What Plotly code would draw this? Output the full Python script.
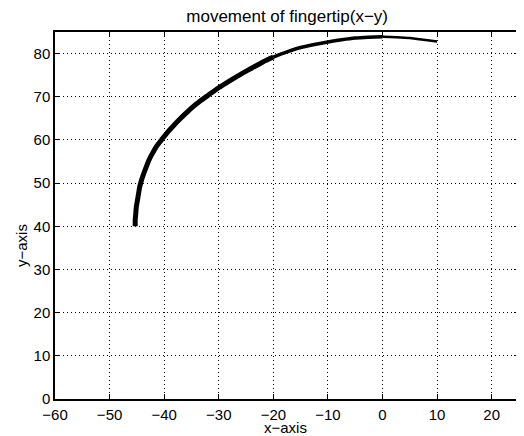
import plotly.graph_objects as go

x_vals = [-45.3, -45.3, -45.2, -45.1, -44.9, -44.7, -44.5, -44.2, -43.8, -43.3,
          -42.8, -42.1, -41.4, -40.5, -39.5, -38.5, -37.3, -36.0, -34.8, -33.4,
          -32.0, -30.0, -28.0, -26.0, -24.0, -22.0, -20.0, -17.5, -15.0, -12.5,
          -10.0, -7.5, -5.0, -2.5, 0.0, 2.5, 5.0, 7.5, 10.0]
y_vals = [40.0, 41.5, 43.0, 44.5, 46.0, 47.5, 49.0, 50.5, 52.0, 53.7,
          55.3, 57.0, 58.5, 60.0, 61.6, 63.0, 64.6, 66.2, 67.6, 69.0,
          70.3, 72.1, 73.7, 75.2, 76.6, 78.0, 79.2, 80.4, 81.4, 82.1,
          82.7, 83.2, 83.6, 83.8, 83.9, 83.8, 83.6, 83.2, 82.8]

x_ticks = [-60, -50, -40, -30, -20, -10, 0, 10, 20]
y_ticks = [0, 10, 20, 30, 40, 50, 60, 70, 80]

split = 26
split2 = 34
fig = go.Figure()
fig.add_trace(go.Scatter(x=x_vals[:split + 1], y=y_vals[:split + 1], mode="lines",
                         line=dict(color="black", width=5, shape="spline"), showlegend=False))
fig.add_trace(go.Scatter(x=x_vals[split:split2 + 1], y=y_vals[split:split2 + 1], mode="lines",
                         line=dict(color="black", width=3.5, shape="spline"), showlegend=False))
fig.add_trace(go.Scatter(x=x_vals[split2:], y=y_vals[split2:], mode="lines",
                         line=dict(color="black", width=2.5, shape="spline"), showlegend=False))

font = "Liberation Sans, Arial, sans-serif"
axis_common = dict(
    showline=True, linecolor="black", linewidth=1.5, mirror="ticks",
    ticks="inside", ticklen=5, tickcolor="black",
    showgrid=True, gridcolor="black", griddash="1px,3px", gridwidth=1,
    zeroline=False, automargin=False,
    tickfont=dict(family=font, size=15, color="black"),
)
fig.update_xaxes(range=[-60, 25], tickvals=x_ticks,
                 ticktext=[str(v).replace("-", "\u2212") for v in x_ticks],
                 ticklabelstandoff=1, **axis_common)
fig.update_yaxes(range=[0, 85], tickvals=y_ticks, **axis_common)

title_font = dict(family=font, size=15, color="black")
fig.add_annotation(text="x\u2212axis", xref="paper", yref="paper", x=0.4957, y=-0.079,
                   xanchor="center", yanchor="middle", showarrow=False, font=title_font)
fig.add_annotation(text="y\u2212axis", xref="paper", yref="paper", x=-0.0733, y=0.4196,
                   xanchor="center", yanchor="middle", textangle=-90, showarrow=False, font=title_font)

# the page adds an 8px body margin, so the figure is sized to fit inside the window
fig.update_layout(
    width=516, height=428,
    margin=dict(l=47, r=5, t=24, b=37),
    paper_bgcolor="white", plot_bgcolor="white",
    title=dict(text="movement of fingertip(x\u2212y)", x=0.541, xanchor="center", y=0.981, yanchor="middle",
               font=dict(family=font, size=17, color="black")),
)
fig.write_html("out.html")
